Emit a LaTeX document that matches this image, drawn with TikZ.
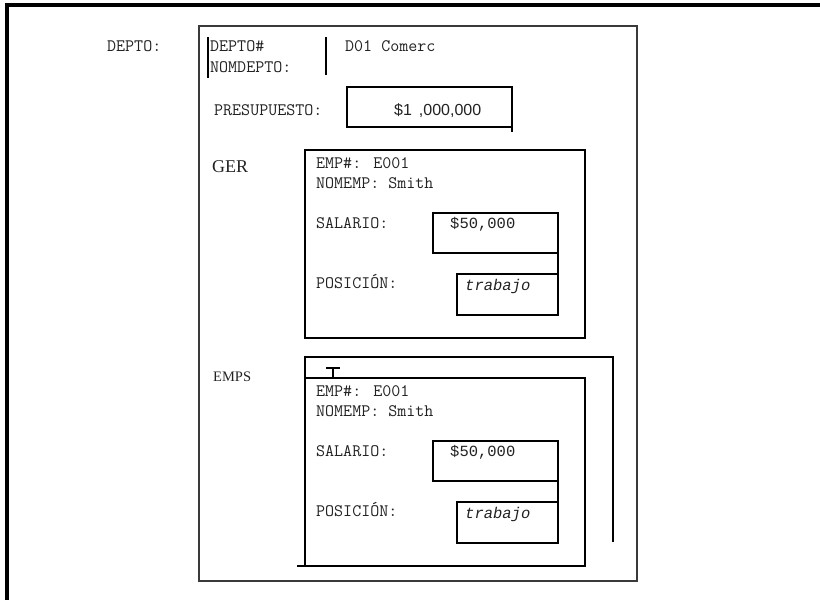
\documentclass[tikz,border=0pt]{standalone}
\usepackage{fontspec}
\setmainfont{Liberation Serif}
\newfontfamily\valfont{Liberation Mono}
\newfontfamily\sumfont{Liberation Sans}
\usetikzlibrary{positioning}
\definecolor{FrameGray}{HTML}{3A3A3A}
\definecolor{TextGray}{HTML}{222222}
\tikzset{
    % Field text (monospaced)
    fieldtext/.style={
        anchor=base west,
        inner sep=0pt,
        text=TextGray,
        font=\fontsize{17.5}{20}\selectfont\ttfamily
    },
    % Value text
    valtext/.style={
        fieldtext,
        font=\fontsize{15.5}{18}\selectfont\valfont
    },
    % Record label (serif)
    reclabel/.style={
        anchor=base west,
        inner sep=0pt,
        text=TextGray,
        font=\fontsize{18}{20}\selectfont\rmfamily
    },
    % Department frame
    deptobox/.style={
        draw=FrameGray,
        line width=1.5pt,
        anchor=north west,
        inner sep=0pt,
        outer sep=0pt
    },
    % Record box
    recbox/.style={
        draw=black,
        line width=1.8pt,
        anchor=north west,
        inner sep=0pt,
        outer sep=0pt
    },
    % Value box
    valuebox/.style={
        recbox,
        minimum height=40pt
    },
    % Plain rule
    recline/.style={
        draw=black,
        line width=1.8pt
    }
}
\begin{document}
\begin{tikzpicture}[x=1pt,y=-1pt]
    \clip (0,0) rectangle (820,600);
    \fill[white] (0,0) rectangle (820,600);
    % outer frame
    \draw[line width=4pt] (7,610) -- (7,5) -- (830,5);

    % department
    \node[fieldtext] (deptolbl) at (107,51) {DEPTO:};
    \node[deptobox, minimum width=438pt, minimum height=555pt] (depto) at (199,26) {};
    \node[fieldtext] (deptonum) at (210,51) {DEPTO\#};
    \node[fieldtext] (deptonom) at (210,72) {NOMDEPTO:};
    \node[fieldtext] (deptoval) at (345,51) {D01 Comerc};
    \draw[recline] (208,37) -- (208,78);
    \draw[recline] (326,37) -- (326,75);

    \node[fieldtext] (preslbl) at (214,115) {PRESUPUESTO:};
    \node[valuebox, line width=1.5pt, minimum width=165pt, minimum height=40pt] (pres) at (347,87) {};
    \node[valtext, font=\fontsize{16}{18}\selectfont\sumfont] (presval) at (394,115) {\$1\hspace{7pt},000,000};
    \draw[recline, line width=1.5pt] (pres.south east) -- ++(0,5);

    % manager and employees
    \node[reclabel] (gerlbl) at (212,172) {GER};
    \node[reclabel, font=\fontsize{14.5}{17}\selectfont\rmfamily] (empslbl) at (213,381) {EMPS};

    \foreach \rec/\top in {ger/150, emps/378}{
        \node[recbox, minimum width=280pt, minimum height=188pt] (\rec) at (305,\top) {};
        \node[fieldtext] (\rec-id) at (316,\top+18) {EMP\#: E001};
        \node[fieldtext] (\rec-nom) at (316,\top+38) {NOMEMP: Smith};
        \node[fieldtext] (\rec-sallbl) at (316,\top+78) {SALARIO:};
        \node[valuebox, minimum width=125pt] (\rec-sal) at (433,\top+63) {};
        \node[valtext] (\rec-salval) at (450,\top+78) {\$50,000};
        \node[fieldtext] (\rec-poslbl) at (316,\top+138) {POSICIÓN:};
        \node[valuebox, minimum width=101pt, minimum height=41pt] (\rec-pos) at (457,\top+124) {};
        \node[valtext, font=\fontsize{15.5}{18}\selectfont\valfont\itshape] (\rec-posval) at (465,\top+140) {trabajo};
        \draw[recline] (\rec-sal.south east) -- (\rec-pos.north east);
    }

    % employee list frame
    \draw[recline] (305,378) -- (305,357) -- (613,357) -- (613,542);
    \draw[recline] (326,368) -- (340,368);
    \draw[recline] (333,368) -- (333,378);
    \draw[recline] ([xshift=-8pt]emps.south west) -- (emps.south west);
\end{tikzpicture}
\end{document}
